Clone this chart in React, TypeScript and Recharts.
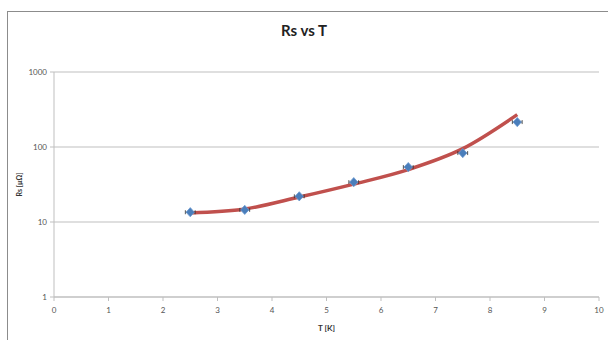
import React from "react";
import {
  ComposedChart,
  Line,
  Scatter,
  XAxis,
  YAxis,
  CartesianGrid,
  ErrorBar,
  Label,
} from "recharts";

const temperatures = [2.5, 3.5, 4.5, 5.5, 6.5, 7.5, 8.5];
const measuredRs = [13.5, 14.5, 22, 34, 54, 83, 215];
const fitRs = [13.2, 14.9, 21.5, 32, 50, 95, 270];
const tErr = [0.09, 0.09, 0.09, 0.09, 0.09, 0.09, 0.09];
const xTicks = [0, 1, 2, 3, 4, 5, 6, 7, 8, 9, 10];
const yTicks = [1, 10, 100, 1000];

const fitData = temperatures.map((t, i) => ({ t, fit: fitRs[i] }));
const pointData = temperatures.map((t, i) => ({ t, rs: measuredRs[i], err: tErr[i] }));

const FONT = "Lato, 'Open Sans', sans-serif";

const Diamond = (props: any) => {
  const { cx, cy } = props;
  if (cx == null || cy == null) return null;
  const w = 4.2;
  const h = 4.6;
  return (
    <polygon
      points={`${cx},${cy - h} ${cx + w},${cy} ${cx},${cy + h} ${cx - w},${cy}`}
      fill="#4a7ebb"
      stroke="#6d9bd1"
      strokeWidth={0.8}
    />
  );
};

export default function App() {
  return (
    <div style={{ position: "absolute", left: 0, top: 0, width: 608, height: 340, background: "#fff", overflow: "hidden" }}>
      <div
        style={{
          position: "absolute",
          left: 7,
          top: 11,
          width: 610,
          height: 340,
          border: "1px solid #8c8c8c",
          boxSizing: "border-box",
        }}
      />
      <div
        style={{
          position: "absolute",
          left: 0,
          width: 608,
          top: 21,
          textAlign: "center",
          fontFamily: FONT,
          fontWeight: 700,
          fontSize: 15,
          color: "#222",
        }}
      >
        Rs vs T
      </div>
      <div style={{ position: "absolute", left: 8, top: 12 }}>
        <ComposedChart
          width={600}
          height={328}
          margin={{ top: 60, right: 9, left: 0, bottom: 13 }}
        >
          <CartesianGrid vertical={false} stroke="#bfbfbf" strokeWidth={1.2} />
          <XAxis
            type="number"
            dataKey="t"
            domain={[0, 10]}
            ticks={xTicks}
            allowDataOverflow
            tick={{ fontSize: 8, fill: "#555", fontFamily: FONT }}
            tickSize={4}
            tickMargin={6}
            stroke="#bfbfbf"
            height={30}
          >
            <Label value="T [K]" position="insideBottom" offset={-4} style={{ fontSize: 8, fontWeight: 700, fill: "#333", fontFamily: FONT }} />
          </XAxis>
          <YAxis
            type="number"
            scale="log"
            domain={[1, 1000]}
            ticks={yTicks}
            allowDataOverflow
            tick={{ fontSize: 8, fill: "#555", fontFamily: FONT }}
            tickSize={4}
            tickMargin={3}
            stroke="#bfbfbf"
            width={46}
          >
            <Label value="Rs [µΩ]" angle={-90} position="insideLeft" offset={12} style={{ fontSize: 7, fontWeight: 700, fill: "#333", fontFamily: FONT, textAnchor: "middle" }} />
          </YAxis>
          <Line
            data={fitData}
            dataKey="fit"
            type="monotone"
            stroke="#c0504d"
            strokeWidth={3.5}
            dot={false}
            activeDot={false}
            isAnimationActive={false}
          />
          <Scatter
            data={pointData}
            dataKey="rs"
            fill="#4a7ebb"
            shape={<Diamond />}
            isAnimationActive={false}
          >
            <ErrorBar dataKey="err" direction="x" stroke="#333" strokeWidth={0.8} width={2} />
          </Scatter>
        </ComposedChart>
      </div>
    </div>
  );
}
